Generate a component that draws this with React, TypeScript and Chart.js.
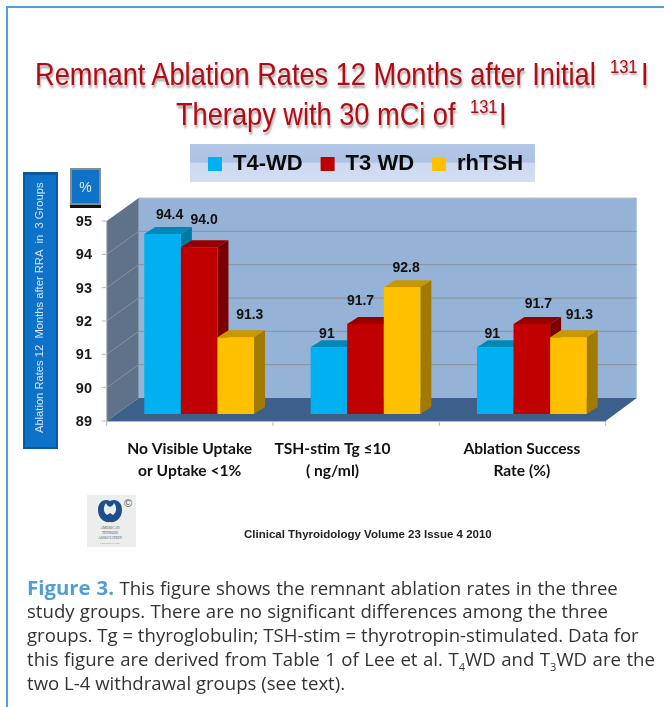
import React, { useEffect, useRef } from "react";
import { Chart, registerables } from "chart.js";

Chart.register(...registerables);

const categories = [
  ["No Visible Uptake", "or Uptake <1%"],
  ["TSH-stim Tg ≤10", "( ng/ml)"],
  ["Ablation Success", "Rate (%)"],
];
const t4wd = [94.4, 91, 91];
const t3wd = [94.0, 91.7, 91.7];
const rhtsh = [91.3, 92.8, 91.3];
const t4Labels = ["94.4", "91", "91"];
const t3Labels = ["94.0", "91.7", "91.7"];
const rhLabels = ["91.3", "92.8", "91.3"];
const yMin = 89;
const yMax = 95;
const yAxisTitle = "    Ablation Rates 12  Months after RRA  in  3 Groups";
const captionLines = [
  "This figure shows the remnant ablation rates in the three",
  "study groups. There are no significant differences among the three",
  "groups. Tg = thyroglobulin; TSH-stim = thyrotropin-stimulated. Data for",
];

// layout constants of the pseudo 3D look
const FRONT_DX = -9.3;
const FRONT_DY = 7;
const BACK_DY = -16;
const BAR_DX = 11;
const BAR_DY = -7;
const labelNudge = [
  [[7, -19], [-2, -13], [-3, -13]],
  [[5, -27], [-5, -23], [6.5, -20]],
  [[14, -22], [4, -19], [11, -22]],
];
const xLabelNudge = [-9.5, -33, -10];
const shades = [
  { top: "#0088b6", side: "#007aa6" },
  { top: "#980000", side: "#7c0000" },
  { top: "#c99700", side: "#a37a00" },
];
const pointLabels = [t4Labels, t3Labels, rhLabels];

function poly(ctx: CanvasRenderingContext2D, pts: number[][], fill: string | CanvasGradient) {
  ctx.beginPath();
  pts.forEach((p, i) => (i ? ctx.lineTo(p[0], p[1]) : ctx.moveTo(p[0], p[1])));
  ctx.closePath();
  ctx.fillStyle = fill;
  ctx.fill();
}

const scenePlugin = {
  id: "scene",
  afterLayout(chart: any) {
    chart.legend.top = 135;
  },
  beforeDraw(chart: any) {
    const ctx: CanvasRenderingContext2D = chart.ctx;
    ctx.save();
    // legend band
    const band = ctx.createLinearGradient(0, 144, 0, 182);
    band.addColorStop(0, "#b2c6e6");
    band.addColorStop(0.48, "#aec3e4");
    band.addColorStop(0.5, "#ccd9f0");
    band.addColorStop(1, "#d2def2");
    ctx.fillStyle = band;
    ctx.fillRect(190, 144, 345, 38);
    // y title box
    ctx.fillStyle = "#0b5a9e";
    ctx.fillRect(23, 172, 35, 277);
    ctx.fillStyle = "#0f72c9";
    ctx.fillRect(25, 175, 31, 272);
    // % box
    ctx.fillStyle = "#8b8b8b";
    ctx.fillRect(70, 168, 31, 38);
    ctx.fillStyle = "#0f72c9";
    ctx.fillRect(72, 170, 27, 33);
    ctx.fillStyle = "#111";
    ctx.fillRect(70, 205, 31, 3);
    ctx.fillStyle = "#dfeaf5";
    ctx.font = "14px 'Liberation Sans'";
    ctx.textAlign = "center";
    ctx.textBaseline = "middle";
    ctx.fillText("%", 85.5, 188);
    ctx.restore();
  },
  beforeDatasetsDraw(chart: any) {
    const ctx: CanvasRenderingContext2D = chart.ctx;
    const { left, right } = chart.chartArea;
    const y = chart.scales.y;
    const x = chart.scales.x;
    const fl = left + FRONT_DX;
    const fr = right + FRONT_DX;
    const bl = fl + 32;
    const br = fr + 31;
    const yb = y.getPixelForValue(yMin);
    const yt = y.getPixelForValue(yMax);
    ctx.save();
    // back wall
    ctx.fillStyle = "#95b3d7";
    ctx.fillRect(bl, yt + BACK_DY, br - bl, yb - yt);
    ctx.strokeStyle = "#b9bfc6";
    ctx.lineWidth = 1;
    ctx.beginPath();
    ctx.moveTo(bl, yt + BACK_DY);
    ctx.lineTo(br, yt + BACK_DY);
    ctx.stroke();
    // left wall
    poly(ctx, [[fl, yt + FRONT_DY], [bl, yt + BACK_DY], [bl, yb + BACK_DY], [fl, yb + FRONT_DY]], "#607289");
    // floor
    poly(ctx, [[fl, yb + FRONT_DY], [bl, yb + BACK_DY], [br, yb + BACK_DY], [fr, yb + FRONT_DY]], "#3d5f8c");
    // grid lines
    ctx.strokeStyle = "#8d9299";
    ctx.lineWidth = 1;
    y.ticks.forEach((t: any) => {
      if (t.value === yMin || t.value === yMax) return;
      const py = y.getPixelForValue(t.value);
      ctx.beginPath();
      ctx.moveTo(fl, py + FRONT_DY);
      ctx.lineTo(bl, py + BACK_DY);
      ctx.lineTo(br, py + BACK_DY);
      ctx.stroke();
    });
    // front axis and tick marks
    ctx.strokeStyle = "#b5b8bc";
    ctx.beginPath();
    ctx.moveTo(fl, yb + FRONT_DY + 0.5);
    ctx.lineTo(fr, yb + FRONT_DY + 0.5);
    ctx.moveTo(fl, yt + FRONT_DY);
    ctx.lineTo(fl, yb + FRONT_DY);
    y.ticks.forEach((t: any) => {
      const py = y.getPixelForValue(t.value) + FRONT_DY;
      ctx.moveTo(fl - 5, py);
      ctx.lineTo(fl, py);
    });
    for (let i = 0; i <= categories.length; i++) {
      const px = x.getPixelForValue(i - 0.5) + FRONT_DX;
      ctx.moveTo(px, yb + FRONT_DY);
      ctx.lineTo(px, yb + FRONT_DY + 5);
    }
    ctx.stroke();
    // bars left to right so every bar covers its neighbour's side
    [...chart.getSortedVisibleDatasetMetas()].sort((a: any, b: any) => a.index - b.index).forEach((meta: any) => {
      const c = shades[meta.index];
      meta.data.forEach((bar: any) => {
        const l = bar.x - bar.width / 2;
        const r = bar.x + bar.width / 2;
        poly(ctx, [[l, bar.y], [l + BAR_DX, bar.y + BAR_DY], [r + BAR_DX, bar.y + BAR_DY], [r, bar.y]], c.top);
        poly(ctx, [[r, bar.y], [r + BAR_DX, bar.y + BAR_DY], [r + BAR_DX, bar.base + BAR_DY], [r, bar.base]], c.side);
      });
      meta.controller.draw();
    });
    // data labels
    ctx.fillStyle = "#111";
    ctx.font = "bold 14px 'Liberation Sans'";
    ctx.textAlign = "center";
    ctx.textBaseline = "middle";
    chart.getSortedVisibleDatasetMetas().forEach((meta: any) => {
      meta.data.forEach((bar: any, i: number) => {
        const n = labelNudge[meta.index][i];
        ctx.fillText(pointLabels[meta.index][i], bar.x + n[0], bar.y + n[1]);
      });
    });
    ctx.restore();
    return false;
  },
};

const xLabelPlugin = {
  id: "xLabelShift",
  beforeDraw(chart: any) {
    // the reference's category captions sit off centre
    chart.scales.x.getLabelItems(chart.chartArea).forEach((it: any, i: number) => {
      if (!it.__moved) {
        it.options.translation = [it.options.translation[0] + xLabelNudge[i], it.options.translation[1]];
        it.__moved = true;
      }
    });
  },
};

function TitleLine({ y, x, text, sup, supX, iX }: any) {
  const base: React.CSSProperties = {
    position: "absolute",
    whiteSpace: "nowrap",
    fontFamily: "'Liberation Sans', Arial, sans-serif",
    color: "#b30b16",
    textShadow: "1px 2px 2px rgba(0,0,0,0.35)",
    transformOrigin: "left center",
    transform: "scale(1,1.14)",
    lineHeight: "30px",
  };
  return (
    <>
      <div style={{ ...base, left: x, top: y - 15, fontSize: 27.2 }}>{text}</div>
      <div style={{ ...base, left: supX, top: y - 24, fontSize: 16.5 }}>{sup}</div>
      <div style={{ ...base, left: iX, top: y - 15, fontSize: 27.2 }}>I</div>
    </>
  );
}

export default function App() {
  const ref = useRef<HTMLCanvasElement>(null);
  useEffect(() => {
    const chart = new Chart(ref.current as HTMLCanvasElement, {
      type: "bar",
      plugins: [scenePlugin, xLabelPlugin],
      data: {
        labels: categories as any,
        datasets: [
          { label: "T4-WD", data: t4wd, backgroundColor: "#00b0f0" },
          { label: "T3 WD", data: t3wd, backgroundColor: "#c00000" },
          { label: "rhTSH", data: rhtsh, backgroundColor: "#ffc000" },
        ],
      },
      options: {
        responsive: false,
        animation: false,
        layout: { padding: { top: 164, left: 0, right: 49, bottom: 0 } },
        datasets: { bar: { categoryPercentage: 0.66, barPercentage: 1, borderWidth: 0, base: yMin } },
        plugins: {
          title: { display: false },
          tooltip: { enabled: false },
          legend: {
            display: true,
            position: "top",
            fullSize: false,
            labels: {
              boxWidth: 14,
              boxHeight: 14,
              padding: 18,
              color: "#0a0a0a",
              font: { size: 22, family: "'Liberation Sans'", weight: "bold" },
            },
          },
        },
        scales: {
          x: {
            grid: { display: false, drawTicks: false },
            border: { display: false },
            afterFit: (s: any) => { s.height = 293; },
            ticks: {
              autoSkip: false,
              maxRotation: 0,
              padding: 24,
              color: "#111",
              font: { size: 15.6, family: "Lato", weight: "bold", lineHeight: 1.4 },
            },
          },
          y: {
            min: yMin,
            max: yMax,
            grid: { display: false, drawTicks: false },
            border: { display: false },
            afterFit: (s: any) => { s.width = 116; },
            title: {
              display: true,
              text: yAxisTitle,
              color: "#d5e6f5",
              font: { size: 11.2, family: "'Liberation Sans'" },
              padding: { top: 33, bottom: 0 },
            },
            ticks: {
              stepSize: 1,
              padding: 24,
              labelOffset: 8,
              color: "#1a1a1a",
              font: { size: 14.5, family: "'Liberation Sans'", weight: "bold" },
            },
          },
        },
      } as any,
    });
    return () => chart.destroy();
  }, []);

  const captionStyle: React.CSSProperties = {
    position: "absolute",
    left: 27,
    whiteSpace: "nowrap",
    fontFamily: "'Open Sans', sans-serif",
    fontSize: 18.6,
    lineHeight: "24px",
    color: "#333",
  };
  return (
    <div style={{ position: "absolute", left: 0, top: 0, width: 664, height: 707, background: "#fff", overflow: "hidden" }}>
      <div style={{ position: "absolute", left: 6, top: 6, width: 658, height: 701, borderTop: "2px solid #4aa3de", borderLeft: "2px solid #4aa3de", boxSizing: "border-box" }} />
      <canvas ref={ref} width={664} height={707} style={{ position: "absolute", left: 0, top: 0 }} />
      <TitleLine y={75} x={35} text="Remnant Ablation Rates 12 Months after Initial" sup="131" supX={610} iX={641} />
      <TitleLine y={115} x={176} text="Therapy with 30 mCi of" sup="131" supX={470} iX={499} />
      <svg width={49} height={52} viewBox="0 0 49 52" style={{ position: "absolute", left: 87, top: 495 }}>
        <rect width={49} height={52} fill="#eceeee" />
        <path d="M23 6 C29 3 35 7 35 15 C35 23 29 28 23 27 C17 28 11 23 11 15 C11 7 17 3 23 6 Z" fill="#1f4e8c" />
        <path d="M19 8 C21 13 25 13 27 8 C30 12 30 17 26 20 L23 18 L20 20 C16 17 16 12 19 8 Z" fill="#eceeee" />
        <text x={41} y={12} fontSize={11} fill="#555" textAnchor="middle" fontFamily="Liberation Sans">©</text>
        <text x={23} y={34} fontSize={3.6} fill="#555" textAnchor="middle" fontFamily="Liberation Serif">AMERICAN</text>
        <text x={23} y={38.5} fontSize={3.6} fill="#555" textAnchor="middle" fontFamily="Liberation Serif">THYROID</text>
        <text x={23} y={43.5} fontSize={3.6} fill="#555" textAnchor="middle" fontFamily="Liberation Serif">ASSOCIATION</text>
        <text x={23} y={49} fontSize={2.8} fill="#777" textAnchor="middle" fontFamily="Liberation Serif">FOUNDED 1923</text>
      </svg>
      <div style={{ position: "absolute", left: 244, top: 527, whiteSpace: "nowrap", fontFamily: "'Liberation Sans', sans-serif", fontWeight: "bold", fontSize: 11.5, lineHeight: "14px", color: "#222" }}>
        Clinical Thyroidology Volume 23 Issue 4 2010
      </div>
      <div style={{ ...captionStyle, top: 575, wordSpacing: 0.6 }}>
        <b style={{ color: "#4f9fd6", fontSize: 20.4 }}>Figure 3.</b> {captionLines[0]}
      </div>
      <div style={{ ...captionStyle, top: 599, wordSpacing: 0.4 }}>{captionLines[1]}</div>
      <div style={{ ...captionStyle, top: 623 }}>{captionLines[2]}</div>
      <div style={{ ...captionStyle, top: 647, wordSpacing: 0.7 }}>
        this figure are derived from Table 1 of Lee et al. T<sub style={{ fontSize: 11, lineHeight: 0 }}>4</sub>WD and T<sub style={{ fontSize: 11, lineHeight: 0 }}>3</sub>WD are the
      </div>
      <div style={{ ...captionStyle, top: 671 }}>two L-4 withdrawal groups (see text).</div>
    </div>
  );
}
